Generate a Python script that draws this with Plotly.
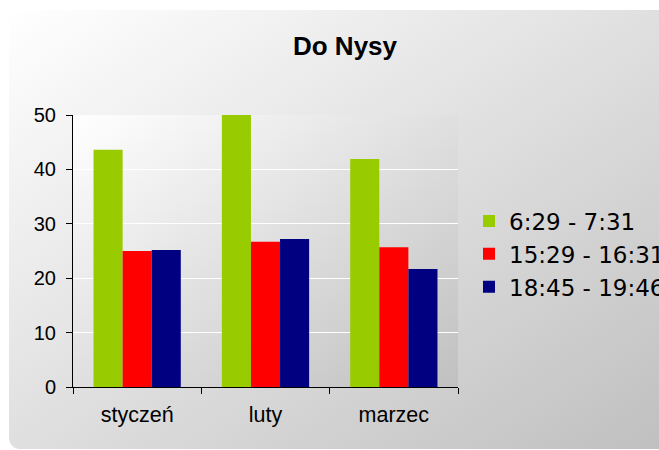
import base64
import plotly.graph_objects as go

categories = ["styczeń", "luty", "marzec"]
series_names = ["6:29 - 7:31", "15:29 - 16:31", "18:45 - 19:46"]
series_a = [43.6, 50.0, 41.9]
series_b = [25.0, 26.7, 25.7]
series_c = [25.2, 27.2, 21.7]
y_ticks = [0, 10, 20, 30, 40, 50]
colors = ["#99CC00", "#FF0000", "#000080"]

W, H = 659, 450
L, T = 73, 115
PR, PB = 458, 387
R, B = W - PR, H - PB
PW, PH = PR - L, PB - T


def svg_uri(w, h, c0, c1, rx):
    svg = (
        f'<svg xmlns="http://www.w3.org/2000/svg" width="{w}" height="{h}" viewBox="0 0 {w} {h}" preserveAspectRatio="none">'
        f'<defs><linearGradient id="g" x1="0" y1="0" x2="1" y2="1">'
        f'<stop offset="0" stop-color="{c0}"/><stop offset="1" stop-color="{c1}"/>'
        f'</linearGradient></defs>'
        f'<rect x="0" y="0" width="{w}" height="{h}" rx="{rx}" ry="{rx}" fill="url(#g)"/></svg>'
    )
    return "data:image/svg+xml;base64," + base64.b64encode(svg.encode()).decode()


def px_to_paper_x(px):
    return (px - L) / PW


def px_to_paper_y(py):
    return (PB - py) / PH


fig = go.Figure()
for name, vals, col in zip(series_names, [series_a, series_b, series_c], colors):
    fig.add_trace(go.Bar(x=categories, y=vals, name=name, marker_color=col,
                         marker_line_width=0, legendgroup=name))

ox0, oy0, ox1, oy1 = 9, 10, 675, 449
images = [
    dict(source=svg_uri(ox1 - ox0, oy1 - oy0, "#ffffff", "#bfbfbf", 11),
         xref="paper", yref="paper", x=px_to_paper_x(ox0), y=px_to_paper_y(oy0),
         sizex=(ox1 - ox0) / PW, sizey=(oy1 - oy0) / PH,
         xanchor="left", yanchor="top", sizing="stretch", layer="below"),
    dict(source=svg_uri(PW, PH, "#ffffff", "#c0c0c0", 0),
         xref="paper", yref="paper", x=0, y=1, sizex=1, sizey=1,
         xanchor="left", yanchor="top", sizing="stretch", layer="below"),
]

fig.update_layout(
    width=W, height=H,
    margin=dict(l=L, r=R, t=T, b=B, autoexpand=False),
    paper_bgcolor="white",
    plot_bgcolor="rgba(0,0,0,0)",
    images=images,
    barmode="group", bargap=0.32, bargroupgap=0,
    title=dict(text="<b>Do Nysy</b>", x=345 / W, xref="container", xanchor="center",
               y=1 - 46 / H, yref="container", yanchor="middle",
               font=dict(family="Liberation Sans", size=26, color="black")),
    legend=dict(x=px_to_paper_x(469), xanchor="left", y=px_to_paper_y(254), yanchor="middle",
                font=dict(family="DejaVu Sans", size=23, color="black"),
                bgcolor="rgba(0,0,0,0)", tracegroupgap=2, itemwidth=30,
                traceorder="normal"),
    showlegend=True,
)
fig.update_xaxes(type="category", tickson="boundaries", ticks="outside", ticklen=6,
                 tickcolor="black", showline=True, linecolor="black", linewidth=1,
                 showgrid=False, ticklabelstandoff=8,
                 tickfont=dict(family="Liberation Sans", size=21.5, color="black"))
fig.update_yaxes(range=[0, 50], tickvals=y_ticks, ticks="outside", ticklen=6,
                 tickcolor="black", showline=True, linecolor="black", linewidth=1,
                 showgrid=True, gridcolor="white", gridwidth=1, zeroline=False,
                 ticklabelstandoff=6,
                 tickfont=dict(family="Liberation Sans", size=20, color="black"))

fig.write_html(
    "out.html",
    config={"displayModeBar": False},
    post_script="document.body.style.margin='0';document.body.style.overflow='hidden';"
                "document.documentElement.style.overflow='hidden';",
)
